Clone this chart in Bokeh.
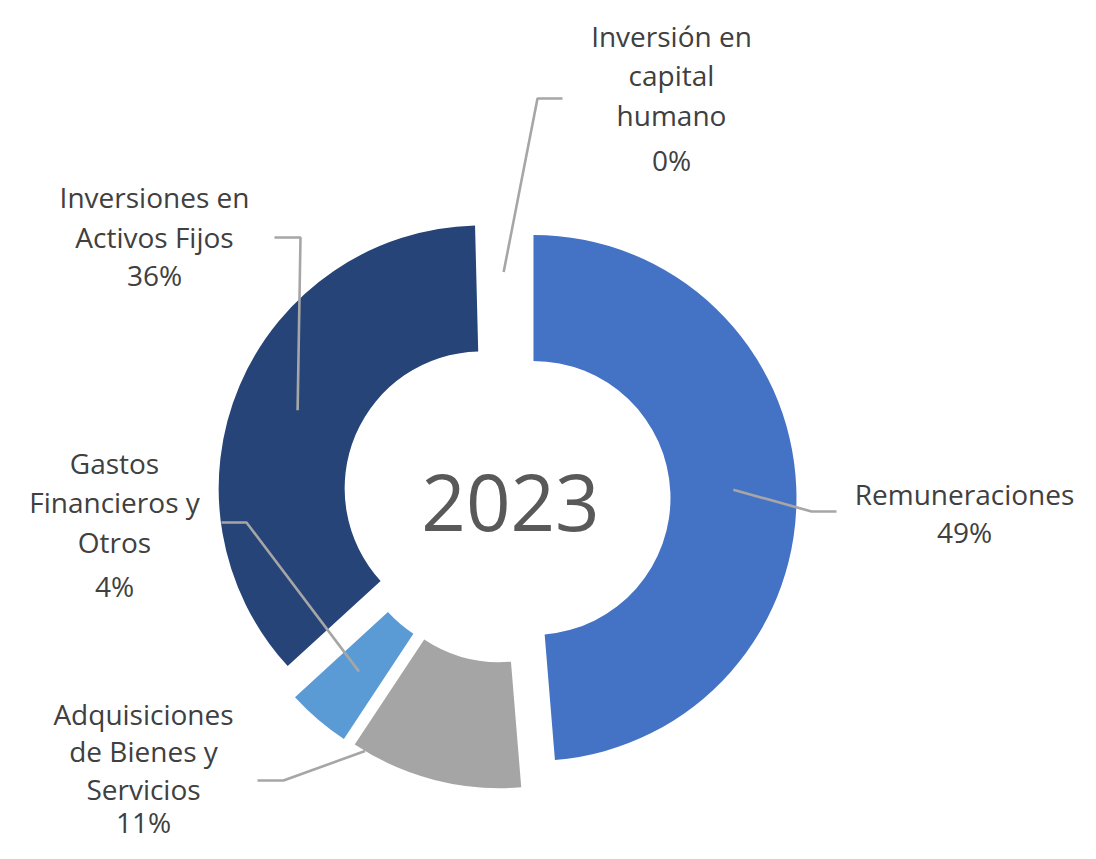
import math
from bokeh.plotting import figure
from bokeh.models import Range1d, ColumnDataSource
from bokeh.core.properties import value
from bokeh.embed import file_html
from bokeh.resources import INLINE

# ---------------- data ----------------
year = "2023"
categories = [
    "Remuneraciones",
    "Adquisiciones de Bienes y Servicios",
    "Gastos Financieros y Otros",
    "Inversiones en Activos Fijos",
    "Inversión en capital humano",
]
shares = [48.7, 10.6, 3.9, 36.4, 0.4]
label_lines = [
    ["Remuneraciones"],
    ["Adquisiciones", "de Bienes y", "Servicios"],
    ["Gastos", "Financieros y", "Otros"],
    ["Inversiones en", "Activos Fijos"],
    ["Inversión en", "capital", "humano"],
]

# ---------------- styles / layout ----------------
colors = ["#4472C4", "#A5A5A5", "#5B9BD5", "#264478", "#FFFFFF"]
alphas = [1, 1, 1, 1, 0]
CX, CY = 506, 498.5          # pixel centre of the donut
R_OUT, R_IN, EXPLODE = 263, 137, 27
FONT = "Open Sans"
LABEL_SIZE = 28
YEAR_SIZE = 78
TEXT_COLOR = "#404040"
LINE_COLOR = "#A6A6A6"


def text_shift(size):
    # compensation for where the renderer puts the alphabetic baseline
    return 0.35 * size + 3


# label layout: centre x, baselines of name lines, baseline of percent
label_x = [964, 143, 114, 154, 671]
label_first = [506, 726, 475, 209, 48]
label_step = [39, 37.5, 39.5, 40, 39.5]
label_pct = [544, 834, 598, 287, 172]
# leader anchor inside slice: (radius, fraction along slice), elbow and end points
leader_anchor = [(200, 0.5), (263, 0.93), (200, 0.5), (200, 0.5), (200, 0.5)]
leader_elbow = [(811, 511), (283, 780), (246, 522), (300, 237), (537, 98)]
leader_end = [(836, 511), (257, 780), (221, 522), (274, 237), (562, 98)]

total = float(sum(shares))

p = figure(width=1080, height=843,
           x_range=Range1d(0, 1080), y_range=Range1d(-843, 0),
           output_backend="svg", toolbar_location=None,
           x_axis_location=None, y_axis_location=None, min_border=0)
p.grid.visible = False
p.outline_line_color = None
p.background_fill_color = "white"

xs_c, ys_c, st, en = [], [], [], []
lx, ly = [], []
acc = 0.0
for i, s in enumerate(shares):
    a0 = acc / total * 360.0
    acc += s
    a1 = acc / total * 360.0
    mid = math.radians((a0 + a1) / 2)
    cx = CX + EXPLODE * math.sin(mid)
    cy = -CY + EXPLODE * math.cos(mid)
    xs_c.append(cx)
    ys_c.append(cy)
    st.append(math.radians(90 - a1))
    en.append(math.radians(90 - a0))
    r, f = leader_anchor[i]
    ang = math.radians(a0 + (a1 - a0) * f)
    sx = cx + r * math.sin(ang)
    sy = cy + r * math.cos(ang)
    lx.append([sx, leader_elbow[i][0], leader_end[i][0]])
    ly.append([sy, -leader_elbow[i][1], -leader_end[i][1]])

src = ColumnDataSource(dict(x=xs_c, y=ys_c, start=st, end=en,
                            color=colors, alpha=alphas, cat=categories))
p.annular_wedge(x="x", y="y", inner_radius=R_IN, outer_radius=R_OUT,
                start_angle="start", end_angle="end",
                fill_color="color", fill_alpha="alpha", line_color=None,
                source=src)

p.multi_line(xs=lx, ys=ly, line_color=LINE_COLOR, line_width=2.6)

tx, ty, tt = [], [], []
sh = text_shift(LABEL_SIZE)
for i, lines in enumerate(label_lines):
    for j, t in enumerate(lines):
        tx.append(label_x[i])
        ty.append(-(label_first[i] + j * label_step[i]) + sh)
        tt.append(t)
    tx.append(label_x[i])
    ty.append(-label_pct[i] + sh)
    tt.append(f"{round(shares[i] / total * 100):.0f}%")

p.text(x=tx, y=ty, text=tt, text_align="center", text_baseline="alphabetic",
       text_font=value(FONT), text_font_size=f"{LABEL_SIZE}px",
       text_color=TEXT_COLOR)

p.text(x=[510], y=[-532 + text_shift(YEAR_SIZE)], text=[year],
       text_align="center", text_baseline="alphabetic",
       text_font=value(FONT), text_font_size=f"{YEAR_SIZE}px",
       text_color="#595959")

open("out.html", "w").write(file_html(p, INLINE))
